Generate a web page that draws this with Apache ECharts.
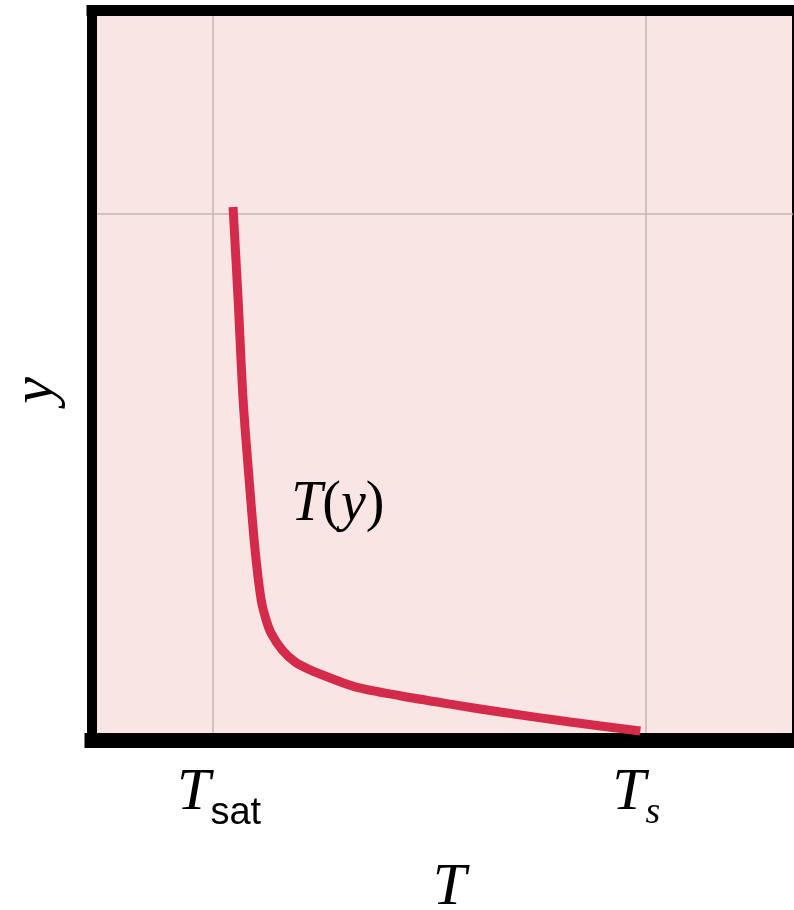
<!DOCTYPE html>
<html>
<head>
<meta charset="utf-8">
<script src="https://cdn.jsdelivr.net/npm/echarts@6/dist/echarts.min.js"></script>
<style>
  html, body { margin: 0; padding: 0; background: #ffffff; }
  #chart { width: 794px; height: 910px; }
</style>
</head>
<body>
<div id="chart"></div>
<script>
// Temperature axis: T_sat is the unit, T_s the wall temperature
const T_SAT = 1.0;
const T_S = 4.57;
const X_MAX = 5.79;
// Height axis: the reference height sits at y = 1
const Y_REF = 1.0;
const Y_MAX = 1.386;

// Temperature profile T(y)
const profileT = [1.165, 1.207, 1.248, 1.298, 1.347, 1.397, 1.438, 1.479, 1.570,
                  1.678, 1.802, 1.942, 2.174, 2.545, 2.959, 3.372, 3.950, 4.529];
const profileY = [1.013, 0.837, 0.647, 0.495, 0.362, 0.267, 0.229, 0.204, 0.172,
                  0.149, 0.134, 0.121, 0.102, 0.085, 0.069, 0.054, 0.035, 0.018];

// Curve label position (data units)
const curveLabel = 'T(y)';
const curveLabelAt = [2.03, 0.447];

const serif = 'Liberation Serif';
const sans = 'Liberation Sans';

const chart = echarts.init(document.getElementById('chart'), null, { renderer: 'canvas' });

const frame = { color: '#000000', cap: 'square' };

chart.setOption({
  animation: false,
  backgroundColor: '#ffffff',
  grid: {
    left: 92, top: 10.5, right: 1, bottom: 169.5,
    outerBoundsMode: 'none',
    containLabel: false,
    show: true,
    backgroundColor: '#f9e5e3',
    borderColor: '#000000',
    borderWidth: 2
  },
  xAxis: [{
    type: 'value',
    min: 0, max: X_MAX,
    name: 'T',
    nameLocation: 'middle',
    nameGap: 118,
    nameTextStyle: { fontFamily: serif, fontStyle: 'italic', fontSize: 60, color: '#000', padding: [0, 0, 0, 14] },
    axisLine: { show: true, onZero: false, lineStyle: Object.assign({ width: 15 }, frame) },
    axisTick: { show: false, customValues: [T_SAT, T_S] },
    splitLine: { show: true, lineStyle: { color: '#c2b6b6', width: 1.5 } },
    axisLabel: {
      customValues: [T_SAT, T_S],
      margin: 14,
      formatter: v => (Math.abs(v - T_SAT) < 1e-6 ? '{t0|T}{sub|sat}' : '{t|T}{si|s}'),
      rich: {
        t0: { fontFamily: serif, fontStyle: 'italic', fontSize: 60, color: '#000', padding: [0, 0, 0, 12] },
        t: { fontFamily: serif, fontStyle: 'italic', fontSize: 60, color: '#000' },
        sub: { fontFamily: sans, fontSize: 38, color: '#000', padding: [40, 0, 0, 0] },
        si: { fontFamily: serif, fontStyle: 'italic', fontSize: 38, color: '#000', padding: [40, 18, 0, 0] }
      }
    }
  }, {
    type: 'value',
    position: 'top',
    min: 0, max: X_MAX,
    axisLine: { show: true, onZero: false, lineStyle: Object.assign({ width: 11 }, frame) },
    axisTick: { show: false },
    axisLabel: { show: false },
    splitLine: { show: false }
  }],
  yAxis: {
    type: 'value',
    min: 0, max: Y_MAX, interval: Y_REF,
    name: 'y',
    nameLocation: 'middle',
    nameGap: 26,
    nameTextStyle: { fontFamily: serif, fontStyle: 'italic', fontSize: 60, color: '#000', padding: [0, 0, 0, -30] },
    axisLine: { show: true, onZero: false, lineStyle: Object.assign({ width: 10 }, frame) },
    axisTick: { show: false },
    axisLabel: { show: false },
    splitLine: { show: true, lineStyle: { color: '#c2b6b6', width: 1.5 } }
  },
  series: [{
    type: 'line',
    data: profileT.map((t, i) => [t, profileY[i]]),
    smooth: 0.3,
    showSymbol: false,
    symbol: 'none',
    lineStyle: { color: '#d52b4b', width: 9, cap: 'butt' },
    markPoint: {
      symbol: 'circle',
      symbolSize: 0,
      silent: true,
      data: [{ coord: curveLabelAt, value: curveLabel }],
      label: {
        show: true,
        position: 'inside',
        formatter: '{i|T}{r|(}{i|y}{r|)}',
        rich: {
          i: { fontFamily: serif, fontStyle: 'italic', fontSize: 56, color: '#000' },
          r: { fontFamily: serif, fontSize: 56, color: '#000' }
        }
      }
    }
  }]
});
</script>
</body>
</html>
